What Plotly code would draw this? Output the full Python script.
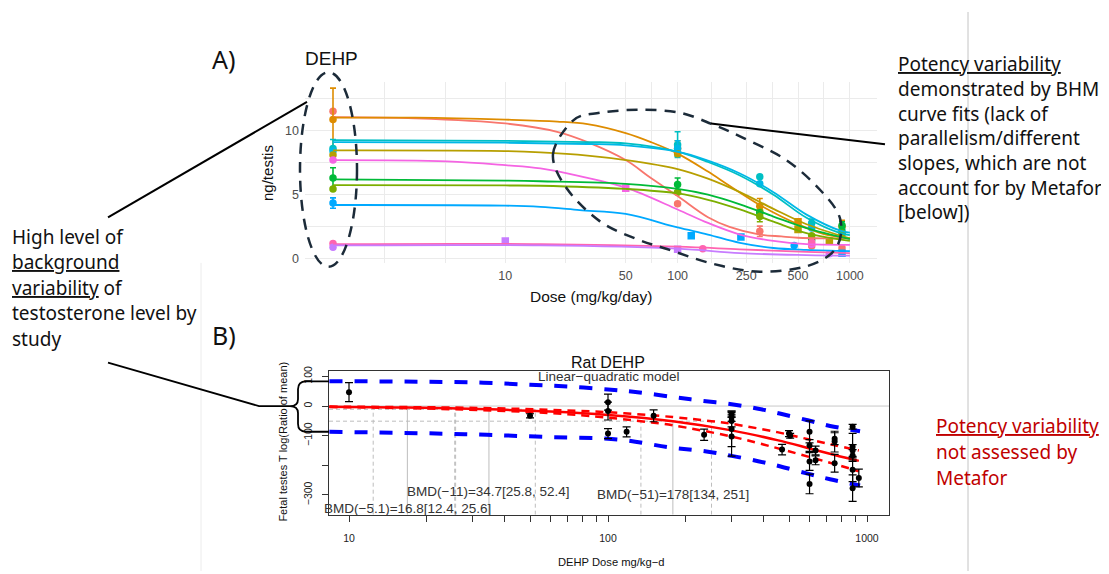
import numpy as np
import plotly.graph_objects as go

W, H = 1109, 574
OFF = 8                      # browser default body margin
FW, FH = W - OFF, H - OFF    # figure size so that it fits the window exactly

# ---------------- Panel A : BHM curve fits by study (ng/testis) ----------------
study_colors = ["#F8766D", "#DE8C00", "#00BFC4", "#00B8E7", "#B79F00", "#F564E3",
                "#00BA38", "#7CAE00", "#00A9FF", "#FF64B0", "#C77CFF"]

curve_doses = [
    [1, 3, 10, 20, 30, 50, 70, 100, 150, 200, 300, 400, 500, 700, 1000],
    [1, 3, 10, 20, 30, 50, 70, 100, 150, 200, 300, 400, 500, 700, 1000],
    [1, 10, 30, 50, 100, 150, 230, 360, 560, 880, 1000],
    [1, 10, 30, 50, 100, 150, 230, 360, 560, 880, 1000],
    [1, 10, 16, 30, 50, 100, 150, 230, 360, 560, 1000],
    [1, 4.6, 10, 16, 27, 50, 100, 150, 230, 360, 560, 1000],
    [1, 10, 16, 50, 100, 150, 230, 360, 560, 1000],
    [1, 10, 16, 50, 100, 150, 230, 360, 560, 1000],
    [1, 10, 16, 27, 50, 100, 150, 230, 360, 560, 1000],
    [1, 16, 100, 230, 560, 1000],
    [1, 16, 100, 230, 560, 1000],
]
curve_vals = [
    [11.05, 10.95, 10.55, 9.9, 9.1, 7.7, 6.3, 4.9, 3.25, 2.5, 1.9, 1.75, 1.65, 1.6, 1.6],
    [11.0, 11.0, 10.85, 10.7, 10.5, 9.8, 9.1, 8.2, 6.8, 5.7, 4.2, 3.3, 2.7, 1.95, 1.6],
    [9.25, 9.2, 9.1, 9.0, 8.35, 7.55, 6.5, 5.0, 3.2, 2.0, 1.85],
    [9.1, 9.05, 8.95, 8.85, 8.35, 7.65, 6.65, 5.2, 3.45, 2.2, 2.05],
    [8.45, 8.4, 8.3, 8.05, 7.7, 7.0, 6.25, 5.2, 3.9, 2.7, 1.6],
    [7.7, 7.6, 7.3, 7.05, 6.45, 5.55, 3.85, 2.8, 1.9, 1.4, 1.15, 1.1],
    [6.2, 6.1, 6.05, 5.85, 5.45, 5.0, 4.25, 3.3, 2.4, 1.55],
    [5.75, 5.72, 5.7, 5.45, 5.1, 4.6, 3.85, 2.9, 2.0, 1.4],
    [4.2, 4.15, 4.05, 3.8, 3.5, 2.45, 1.9, 1.25, 0.85, 0.7, 0.6],
    [1.15, 1.15, 0.95, 0.75, 0.55, 0.45],
    [1.05, 1.05, 0.8, 0.45, 0.3, 0.25],
]
point_doses = [
    [1, 100, 300, 600, 900],
    [1, 100, 300, 500, 900],
    [1, 100, 300, 600, 900],
    [1, 100, 300, 600, 900],
    [1, 100, 300, 500, 760],
    [1, 50, 600],
    [1, 100, 300, 600, 900],
    [1, 100, 300, 600, 900],
    [1, 120, 233, 475, 900],
    [1, 140, 600],
    [1, 10, 100, 760],
]
point_vals = [
    [11.5, 4.3, 2.15, 1.0, 0.85],
    [10.85, 8.6, 4.1, 2.9, 2.5],
    [8.6, 8.9, 6.4, 2.8, 2.2],
    [8.4, 8.6, 5.85, 2.4, 1.9],
    [8.1, 8.2, 3.7, 2.3, 1.4],
    [7.7, 5.5, 1.15],
    [6.3, 5.8, 3.6, 1.5, 2.6],
    [5.45, 5.2, 3.3, 1.8, 2.0],
    [4.35, 1.8, 1.7, 1.05, 0.45],
    [1.2, 0.8, 1.3],
    [0.9, 1.4, 0.75, 0.4],
]
point_errs = [
    [0, 0, 0.4, 0, 0],
    [2.45, 0.6, 0.6, 0, 0.5],
    [0.7, 1.0, 0, 0.3, 0.4],
    [0, 0.6, 0, 0, 0],
    [0, 0, 0.5, 0, 0],
    [0, 0, 0],
    [0.8, 0.5, 0, 0, 0.3],
    [0, 0, 0.4, 0, 0],
    [0.4, 0, 0, 0, 0],
    [0, 0, 0],
    [0, 0, 0, 0],
]
point_symbols = [
    ["circle"] * 5,
    ["circle", "circle", "circle", "square", "circle"],
    ["circle"] * 5,
    ["circle"] * 5,
    ["circle", "circle", "circle", "square", "square"],
    ["circle", "square", "circle"],
    ["circle"] * 5,
    ["circle"] * 5,
    ["circle", "square", "square", "circle", "square"],
    ["circle"] * 3,
    ["circle", "square", "square", "circle"],
]
A_xtick_vals = [10, 50, 100, 250, 500, 1000]
A_xtick_text = ["10", "50", "100", "250", "500", "1000"]
A_xminor_vals = [2, 4.47, 22.36, 70.71, 158.1, 353.6, 707.1]
A_ytick_vals = [0, 5, 10]
A_ytick_text = ["0", "5", "10"]
A_yminor_vals = [2.5, 7.5, 12.5]

# ---------------- Panel B : Rat DEHP, linear-quadratic model ----------------
B_fit_dose = [8.4, 10, 16.8, 34.7, 60, 100, 178, 300, 450, 600, 750, 930]
B_fit_val = [-2.6, -3.1, -5.1, -11, -18.5, -30, -51, -82, -115, -143, -165, -185]
B_ciu_dose = [8.4, 10, 25.6, 52.4, 100, 178, 251, 300, 450, 600, 750, 930]
B_ciu_val = [-1.8, -2.2, -5.1, -11, -21, -37, -51, -60, -88, -113, -132, -150]
B_cil_dose = [8.4, 12.4, 25.8, 60, 100, 134, 178, 300, 450, 600, 750, 930]
B_cil_val = [-3.5, -5.1, -11, -24, -39, -51, -65, -103, -142, -172, -196, -220]
B_piu_dose = [8.4, 20, 33, 50, 70, 100, 130, 180, 230, 300, 380, 460, 590, 720, 940]
B_piu_val = [84, 82, 79, 72, 66, 56, 47, 30, 18, 6, -9, -25, -48, -67, -85]
B_pil_dose = [8.4, 20, 34, 60, 110, 175, 240, 300, 380, 460, 590, 720, 940]
B_pil_val = [-87, -92, -97, -105, -113, -140, -153, -168, -186, -203, -228, -247, -268]

B_pt_dose = [10, 50, 100, 100, 100, 118, 150, 235, 300, 300, 300, 300, 300, 470, 500, 505,
             600, 600, 600, 600, 633, 633, 750, 750, 750, 880, 880, 880, 880, 880, 880, 930]
B_pt_val = [47, -33, 13, -17, -93, -87, -33, -97, -27, -37, -50, -77, -103, -147, -93, -100,
            -87, -133, -187, -263, -150, -183, -110, -120, -193, -70, -137, -150, -167, -215, -277, -243]
B_pt_err = [32, 7, 27, 30, 17, 17, 20, 19, 10, 15, 20, 60, 66, 18, 10, 8,
            37, 20, 30, 33, 15, 15, 20, 35, 30, 8, 45, 20, 20, 40, 45, 30]

bmr_vals = [-5.1, -11, -51]
bmd_vals = [16.8, 34.7, 178]
bmdl_vals = [12.4, 25.8, 134]
bmdu_vals = [25.6, 52.4, 251]

B_xtick_vals = [10, 20, 30, 40, 50, 60, 70, 80, 90, 100, 200, 300, 400, 500, 600, 700, 800, 900, 1000]
B_xtick_text = ["10"] + [""] * 8 + ["100"] + [""] * 8 + ["1000"]
B_ytick_vals = [100, 0, -100, -200, -300]
B_ytick_text = ["100", "0", "\u2212100", "", "\u2212300"]

# ---------------- geometry helpers (window pixel -> paper) ----------------
def fx(x):
    return (x - OFF) / FW

def fy(y):
    return 1 - (y - OFF) / FH

def P(x, y):
    return f"{fx(x):.5f},{fy(y):.5f}"

# Panel A plot area in window pixels; y scale: 0 -> 258 px, 13 px per unit
A_left, A_right, A_top, A_bot = 305, 877, 78.5, 262
A_yrange = [-(A_bot - 258) / 13, (258 - A_top) / 13]
A_xrange = [(A_left - 333) / 172.3, (A_right - 333) / 172.3]
# Panel B plot area
B_left, B_right, B_top, B_bot = 329, 889, 371, 517
B_yrange = [(407 - B_bot) / 0.3, (407 - B_top) / 0.3]
B_xrange = [1 - (349 - B_left) / 259, 3 + (B_right - 867) / 259]

fig = go.Figure()

# ---- Panel A traces ----
for i, col in enumerate(study_colors):
    fig.add_trace(go.Scatter(
        x=point_doses[i], y=point_vals[i], mode="markers", xaxis="x", yaxis="y",
        marker=dict(color=col, size=7.5, symbol=point_symbols[i]),
        error_y=dict(type="data", array=point_errs[i], color=col, thickness=1.6, width=3),
        hoverinfo="skip"))
for i, col in enumerate(study_colors):
    fig.add_trace(go.Scatter(
        x=curve_doses[i], y=curve_vals[i], mode="lines", xaxis="x", yaxis="y",
        line=dict(color=col, width=1.8, shape="spline", smoothing=1.0), hoverinfo="skip"))

# ---- Panel B traces ----
grey = "#bdbdbd"
for i in range(len(bmd_vals)):
    fig.add_trace(go.Scatter(x=[bmd_vals[i], bmd_vals[i]], y=[B_yrange[0], bmr_vals[i]],
                             mode="lines", xaxis="x2", yaxis="y2",
                             line=dict(color=grey, width=1), hoverinfo="skip"))
    for v in (bmdl_vals[i], bmdu_vals[i]):
        fig.add_trace(go.Scatter(x=[v, v], y=[B_yrange[0], bmr_vals[i]],
                                 mode="lines", xaxis="x2", yaxis="y2",
                                 line=dict(color=grey, width=1, dash="4px,3px"), hoverinfo="skip"))
    fig.add_trace(go.Scatter(x=[10 ** B_xrange[0], bmdu_vals[i]], y=[bmr_vals[i], bmr_vals[i]],
                             mode="lines", xaxis="x2", yaxis="y2",
                             line=dict(color=grey, width=1, dash="4px,3px"), hoverinfo="skip"))

for xs, ys in ((B_piu_dose, B_piu_val), (B_pil_dose, B_pil_val)):
    fig.add_trace(go.Scatter(x=xs, y=ys, mode="lines", xaxis="x2", yaxis="y2",
                             line=dict(color="#0000FF", width=4, dash="13px,12px", shape="spline"),
                             hoverinfo="skip"))
for xs, ys in ((B_ciu_dose, B_ciu_val), (B_cil_dose, B_cil_val)):
    fig.add_trace(go.Scatter(x=xs, y=ys, mode="lines", xaxis="x2", yaxis="y2",
                             line=dict(color="#FF0000", width=2.5, dash="8px,6px", shape="spline"),
                             hoverinfo="skip"))
fig.add_trace(go.Scatter(x=B_fit_dose, y=B_fit_val, mode="lines", xaxis="x2", yaxis="y2",
                         line=dict(color="#FF0000", width=2.5, shape="spline"), hoverinfo="skip"))
fig.add_trace(go.Scatter(x=B_pt_dose, y=B_pt_val, mode="markers", xaxis="x2", yaxis="y2",
                         marker=dict(color="black", size=6),
                         error_y=dict(type="data", array=B_pt_err, color="black", thickness=1.2, width=4),
                         hoverinfo="skip"))

# ---------------- annotations ----------------
def ann(x, y, text, size, color="#111111", family="Noto Sans", xanchor="left", angle=0):
    return dict(x=fx(x), y=fy(y), xref="paper", yref="paper", text=text, showarrow=False,
                font=dict(family=family, size=size, color=color), xanchor=xanchor,
                yanchor="middle", textangle=angle)

anns = []
anns.append(ann(210, 56, "A)", 25))
anns.append(ann(210, 335, "B)", 25))
anns.append(ann(331, 55, "DEHP", 19, family="Liberation Sans", xanchor="center"))
anns.append(ann(591, 296, "Dose (mg/kg/day)", 15.5, family="Liberation Sans", xanchor="center"))
anns.append(ann(268, 171, "ng/testis", 15, family="Liberation Sans", xanchor="center", angle=-90))

left_lines = ["High level of", "<u>background</u>", "<u>variability</u> of",
              "testosterone level by", "study"]
for k, t in enumerate(left_lines):
    anns.append(ann(10, 235.5 + 25.8 * k, t, 19))

right_lines = ["<u>Potency variability</u>", "demonstrated by BHM", "curve fits (lack of",
               "parallelism/different", "slopes, which are not", "account for by Metafor", "[below])"]
for k, t in enumerate(right_lines):
    anns.append(ann(896, 61 + 25 * k, t, 19))

red_lines = ["<u>Potency variability</u>", "not assessed by", "Metafor"]
for k, t in enumerate(red_lines):
    anns.append(ann(934, 427 + 26.3 * k, t, 19, color="#C00000"))

# panel B texts
anns.append(ann(608, 363, "Rat DEHP", 16, family="Liberation Sans", xanchor="center"))
anns.append(ann(608, 377.5, "Linear\u2212quadratic model", 13.5, color="#333333",
                family="Liberation Sans", xanchor="center"))
anns.append(ann(611, 565, "DEHP Dose mg/kg\u2212d", 11.2, family="Liberation Sans", xanchor="center"))
anns.append(ann(283, 443, "Fetal testes T log(Ratio of mean)", 11, family="Liberation Sans",
                xanchor="center", angle=-90))
bmd_label_y = [-347, -290, -300]
for i in range(len(bmd_vals)):
    txt = f"BMD(\u2212{abs(bmr_vals[i]):g})={bmd_vals[i]:g}[{bmdl_vals[i]:g}, {bmdu_vals[i]:g}]"
    anns.append(dict(x=np.log10(bmd_vals[i]), y=bmd_label_y[i], xref="x2", yref="y2", text=txt,
                     showarrow=False, xanchor="center", yanchor="middle",
                     font=dict(family="Liberation Sans", size=13.5, color="#333333")))

# ---------------- shapes ----------------
shapes = []
navy = "#1c2b39"
# page edges
shapes.append(dict(type="line", xref="paper", yref="paper", x0=fx(968), x1=fx(968), y0=0, y1=1,
                   line=dict(color="#c4c4c4", width=1)))
shapes.append(dict(type="line", xref="paper", yref="paper", x0=fx(201), x1=fx(201), y0=fy(262), y1=0,
                   line=dict(color="#ececec", width=1)))
# ellipse around controls
shapes.append(dict(type="circle", xref="paper", yref="paper", x0=fx(300), x1=fx(357),
                   y0=fy(266), y1=fy(69), line=dict(color=navy, width=2.5, dash="11px,8px")))
# tilted ellipse around the dose-response region (smooth closed outline)
ox = [553, 573, 600, 640, 680, 713, 740, 785, 820, 840, 836, 808, 760, 713, 667, 637, 600, 567]
oy = [152, 118, 110, 107, 110, 122, 134, 157, 188, 217, 247, 265, 271, 263, 248, 238, 220, 187]
n = len(ox)
path = "M " + P(ox[0], oy[0])
for i in range(n):
    p0 = (ox[i - 1], oy[i - 1]); p1 = (ox[i], oy[i])
    p2 = (ox[(i + 1) % n], oy[(i + 1) % n]); p3 = (ox[(i + 2) % n], oy[(i + 2) % n])
    c1 = (p1[0] + (p2[0] - p0[0]) / 6, p1[1] + (p2[1] - p0[1]) / 6)
    c2 = (p2[0] - (p3[0] - p1[0]) / 6, p2[1] - (p3[1] - p1[1]) / 6)
    path += " C " + P(*c1) + " " + P(*c2) + " " + P(*p2)
path += " Z"
shapes.append(dict(type="path", xref="paper", yref="paper", path=path,
                   line=dict(color=navy, width=2.5, dash="11px,8px")))
# call-out lines
shapes.append(dict(type="line", xref="paper", yref="paper", x0=fx(108), y0=fy(216), x1=fx(307), y1=fy(99),
                   line=dict(color="black", width=2)))
shapes.append(dict(type="line", xref="paper", yref="paper", x0=fx(711), y0=fy(121), x1=fx(885), y1=fy(142),
                   line=dict(color="black", width=2)))
shapes.append(dict(type="path", xref="paper", yref="paper",
                   path="M " + P(108, 363) + " L " + P(259, 407) + " L " + P(290, 407),
                   line=dict(color="black", width=1.8)))
brace = ("M " + P(329, 382) + " L " + P(306, 382) + " Q " + P(298, 382) + " " + P(298, 390) +
         " L " + P(298, 400) + " Q " + P(298, 407) + " " + P(290, 407) +
         " Q " + P(298, 407) + " " + P(298, 414) + " L " + P(298, 425) +
         " Q " + P(298, 433) + " " + P(306, 433) + " L " + P(329, 433))
shapes.append(dict(type="path", xref="paper", yref="paper", path=brace,
                   line=dict(color="black", width=1.8)))
# zero reference line in panel B
shapes.append(dict(type="line", xref="x2 domain", yref="y2", x0=0, x1=1, y0=0, y1=0,
                   line=dict(color="#c8c8c8", width=1), layer="below"))

tickA = dict(family="Liberation Sans", size=12.5, color="#4d4d4d")
tickB = dict(family="Liberation Sans", size=10.5, color="#222222")

fig.update_layout(
    width=FW, height=FH, margin=dict(l=0, r=0, t=0, b=0),
    paper_bgcolor="white", plot_bgcolor="white", showlegend=False,
    xaxis=dict(type="log", domain=[fx(A_left), fx(A_right)], range=A_xrange, anchor="y",
               tickmode="array", tickvals=A_xtick_vals, ticktext=A_xtick_text, ticks="",
               showgrid=True, gridcolor="#ebebeb", gridwidth=1.1, zeroline=False, showline=False,
               minor=dict(tickmode="array", tickvals=A_xminor_vals, showgrid=True,
                          gridcolor="#ebebeb", gridwidth=0.6, ticks=""),
               tickfont=tickA, ticklabelstandoff=4),
    yaxis=dict(domain=[fy(A_bot), fy(A_top)], range=A_yrange, anchor="x",
               tickmode="array", tickvals=A_ytick_vals, ticktext=A_ytick_text, ticks="",
               showgrid=True, gridcolor="#ebebeb", gridwidth=1.1, zeroline=False, showline=False,
               minor=dict(tickmode="array", tickvals=A_yminor_vals, showgrid=True,
                          gridcolor="#ebebeb", gridwidth=0.6, ticks=""),
               tickfont=tickA, ticklabelstandoff=5),
    xaxis2=dict(type="log", domain=[fx(B_left), fx(B_right)], range=B_xrange, anchor="y2",
                tickmode="array", tickvals=B_xtick_vals, ticktext=B_xtick_text,
                ticks="outside", ticklen=6, tickcolor="#333333", tickwidth=1,
                showline=True, linecolor="#333333", linewidth=1, mirror=True,
                showgrid=False, zeroline=False, tickfont=tickB, ticklabelstandoff=8),
    yaxis2=dict(domain=[fy(B_bot), fy(B_top)], range=B_yrange, anchor="x2",
                tickmode="array", tickvals=B_ytick_vals, ticktext=B_ytick_text, tickangle=-90,
                ticks="outside", ticklen=6, tickcolor="#333333", tickwidth=1,
                showline=True, linecolor="#333333", linewidth=1, mirror=True,
                showgrid=False, zeroline=False, tickfont=tickB, ticklabelstandoff=6),
    annotations=anns, shapes=shapes,
)

fig.write_html("out.html")
